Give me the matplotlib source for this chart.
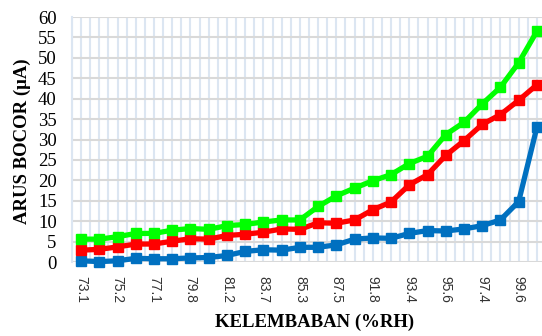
import matplotlib.pyplot as plt
import numpy as np

# Kelembaban relatif (%RH) untuk tiap titik ukur
kelembaban = [73.1, 74.2, 75.2, 76.3, 77.1, 78.5, 79.8, 80.5, 81.2, 82.4,
              83.7, 84.6, 85.3, 86.4, 87.5, 89.6, 91.8, 92.6, 93.4, 94.5,
              95.6, 96.5, 97.4, 98.5, 99.6, 100.0]

# Arus bocor (uA) untuk tiga sampel
arus_hijau = [5.6, 5.6, 6.2, 7.0, 7.0, 7.8, 8.2, 8.0, 8.9, 9.2, 9.8, 10.3, 10.3,
              13.6, 16.2, 18.1, 19.9, 21.4, 24.1, 25.9, 31.2, 34.2, 38.7, 42.8,
              48.8, 56.5]
arus_merah = [2.9, 3.1, 3.7, 4.4, 4.4, 5.1, 5.7, 5.6, 6.5, 6.8, 7.3, 8.1, 8.0,
              9.6, 9.5, 10.3, 12.8, 14.7, 18.9, 21.4, 26.1, 29.7, 33.7, 36.1,
              39.6, 43.4]
arus_biru = [0.3, 0.1, 0.3, 0.9, 0.8, 0.8, 1.0, 1.1, 1.6, 2.6, 3.0, 2.9, 3.6,
             3.6, 4.2, 5.6, 5.9, 5.8, 7.0, 7.7, 7.6, 8.1, 8.9, 10.3, 14.8, 33.0]

x = np.arange(len(kelembaban))

fig = plt.figure(figsize=(5.42, 3.36), dpi=100)
ax = fig.add_axes([0.1328, 0.2202, 0.8746, 0.7292])

# grid: vertical lines at every half category, horizontal every 5 uA
for gx in np.arange(-0.5, len(x) + 0.5, 0.5):
    ax.axvline(gx, color="#dce6f2", linewidth=1.5, zorder=0)
for gy in range(0, 61, 5):
    ax.axhline(gy, color="#d9d9d9", linewidth=1.5, zorder=1)

for seri, warna in [(arus_biru, "#0070c0"), (arus_merah, "#ff0000"),
                    (arus_hijau, "#00ff00")]:
    ax.plot(x, seri, color=warna, linewidth=3.8, marker="s", markersize=7.5,
            zorder=3, clip_on=False)

ax.set_xlim(-0.5, len(x) - 0.5)
ax.set_ylim(0, 60)
ax.set_yticks(range(0, 61, 5))
ax.set_yticklabels([str(v) for v in range(0, 61, 5)],
                   fontfamily="Liberation Serif", fontsize=13.5)
ax.set_xticks(x[::2])
ax.set_xticklabels([f"{v:.1f}" for v in kelembaban[::2]], rotation=-90,
                   fontfamily="Liberation Sans", fontsize=10, color="#333333")
ax.tick_params(axis="both", length=0)
ax.tick_params(axis="y", pad=11)
ax.tick_params(axis="x", pad=10)

for s in ["top", "right", "bottom"]:
    ax.spines[s].set_visible(False)
ax.spines["left"].set_color("#dce6f2")
ax.spines["left"].set_linewidth(1.5)

fig.text(0.580, 0.04, "KELEMBABAN (%RH)", ha="center", va="center",
         fontfamily="Liberation Serif", fontweight="bold", fontsize=13.5)
fig.text(0.042, 0.58, "ARUS BOCOR (μA)", ha="center", va="center",
         rotation=90, fontfamily="Liberation Serif", fontweight="bold",
         fontsize=13.5)

fig.savefig("out.png", dpi=100)
